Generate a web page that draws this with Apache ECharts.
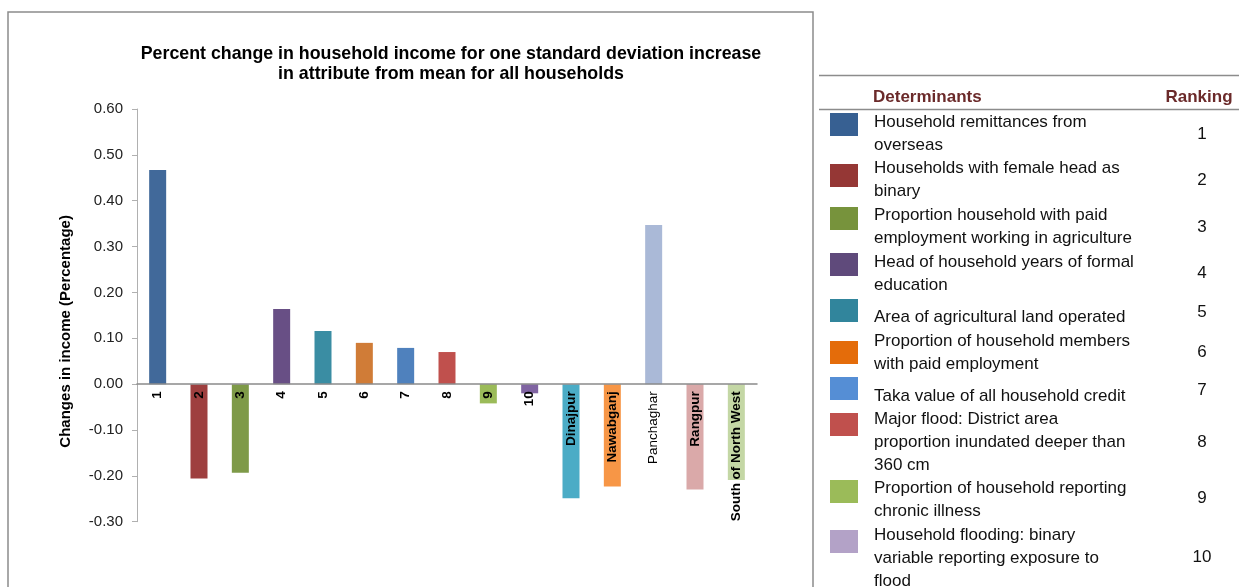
<!DOCTYPE html>
<html>
<head>
<meta charset="utf-8">
<title>Percent change in household income</title>
<script src="https://cdn.jsdelivr.net/npm/echarts@6/dist/echarts.min.js"></script>
<style>
  html, body { margin: 0; padding: 0; background: #fff; }
  #chart { width: 1239px; height: 587px; }
</style>
</head>
<body>
<div id="chart"></div>
<script>
// Categories: ranked determinants (1-10) followed by district dummies
const categories = ['1', '2', '3', '4', '5', '6', '7', '8', '9', '10',
  'Dinajpur', 'Nawabganj', 'Panchaghar', 'Rangpur', 'South of North West'];

// Percent change in income per one standard deviation increase
const values = [0.467, -0.206, -0.193, 0.164, 0.116, 0.090, 0.079, 0.070, -0.042, -0.020,
  -0.249, -0.223, 0.347, -0.230, -0.209];

const barColors = ['#41699A', '#9E3F3F', '#7E9A48', '#684F85', '#3A8DA3', '#D07C37', '#4F81BD',
  '#C0504D', '#9BBB59', '#8064A2', '#4BACC6', '#F79646', '#AAB9D7', '#DAA9A9', '#C4D7A5'];

// Determinants table
const determinants = [
  ['Household remittances from', 'overseas'],
  ['Households with female head as', 'binary'],
  ['Proportion household with paid', 'employment working in agriculture'],
  ['Head of household years of formal', 'education'],
  ['Area of agricultural land operated'],
  ['Proportion of household members', 'with paid employment'],
  ['Taka value of all household credit'],
  ['Major flood: District area', 'proportion inundated deeper than', '360 cm'],
  ['Proportion of household reporting', 'chronic illness'],
  ['Household flooding: binary', 'variable reporting exposure to', 'flood']
];
const rankings = ['1', '2', '3', '4', '5', '6', '7', '8', '9', '10'];
const swatchColors = ['#376092', '#953735', '#77933C', '#5F4A7B', '#31859C', '#E46C0A',
  '#558ED5', '#C0504D', '#9BBB59', '#B3A2C7'];

const yTicks = { min: -0.3, max: 0.6, step: 0.1 };

const FONT = '"Liberation Sans", Arial, sans-serif';

// Plot area geometry
const GRID = { left: 137, right: 482, top: 109, bottom: 65.3 };
const plotHeight = 587 - GRID.top - GRID.bottom;
// lift the category axis (line + labels) from the bottom edge up to the zero line
const zeroOffset = -plotHeight * (0 - yTicks.min) / (yTicks.max - yTicks.min);

// Row layout of the table (pixel positions)
const rowTextTop = [122, 168, 215, 262, 317, 341, 396, 419, 488, 535];
const rowSwatchTop = [113, 164, 207, 253, 299, 341, 377, 413, 480, 530];
const rowRankY = [134, 180, 227, 273, 312, 352, 390, 442, 498, 557];

const graphics = [];
// chart frame
graphics.push({
  type: 'rect', silent: true, z: 0,
  shape: { x: 8, y: 12, width: 805, height: 590 },
  style: { fill: 'none', stroke: '#8c8c8c', lineWidth: 1.5 }
});
// table rules
graphics.push({ type: 'line', shape: { x1: 819, y1: 75.5, x2: 1239, y2: 75.5 },
  style: { stroke: '#8c8c8c', lineWidth: 1.5 } });
graphics.push({ type: 'line', shape: { x1: 819, y1: 109.5, x2: 1239, y2: 109.5 },
  style: { stroke: '#8c8c8c', lineWidth: 1.5 } });
graphics.push({ type: 'text', x: 873, y: 97,
  style: { text: 'Determinants', fill: '#6B2A2A', font: 'bold 17px ' + FONT, textVerticalAlign: 'middle' } });
graphics.push({ type: 'text', x: 1199, y: 97,
  style: { text: 'Ranking', fill: '#6B2A2A', font: 'bold 17px ' + FONT, textAlign: 'center', textVerticalAlign: 'middle' } });

determinants.forEach((lines, i) => {
  graphics.push({
    type: 'rect',
    shape: { x: 830, y: rowSwatchTop[i], width: 28, height: 23 },
    style: { fill: swatchColors[i] }
  });
  lines.forEach((ln, j) => {
    graphics.push({
      type: 'text', x: 874, y: rowTextTop[i] + j * 23,
      style: { text: ln, fill: '#111', font: '17px ' + FONT, textVerticalAlign: 'middle' }
    });
  });
  graphics.push({
    type: 'text', x: 1202, y: rowRankY[i],
    style: { text: rankings[i], fill: '#111', font: '17px ' + FONT, textAlign: 'center', textVerticalAlign: 'middle' }
  });
});

const chart = echarts.init(document.getElementById('chart'), null, { renderer: 'canvas' });
chart.setOption({
  animation: false,
  backgroundColor: '#fff',
  title: {
    text: 'Percent change in household income for one standard deviation increase\nin attribute from mean for all households',
    left: 446,
    top: 39,
    textAlign: 'center',
    textStyle: { fontFamily: FONT, fontSize: 17.8, fontWeight: 'bold', color: '#000', lineHeight: 20 }
  },
  grid: Object.assign({ containLabel: false, outerBoundsMode: 'none' }, GRID),
  xAxis: {
    type: 'category',
    data: categories,
    z: 5,
    offset: zeroOffset,
    axisLine: { onZero: false, lineStyle: { color: '#8a8a8a', width: 1.5 } },
    axisTick: { show: false },
    axisLabel: {
      rotate: 90,
      margin: 7,
      interval: 0,
      fontFamily: FONT,
      fontSize: 13.5,
      fontWeight: 'bold',
      color: '#000',
      formatter: v => v === 'Panchaghar' ? '{n|' + v + '}' : v,
      rich: { n: { fontFamily: FONT, fontSize: 13.5, fontWeight: 'normal', color: '#000' } }
    }
  },
  yAxis: {
    type: 'value',
    min: yTicks.min,
    max: yTicks.max,
    interval: yTicks.step,
    name: 'Changes in income (Percentage)',
    nameLocation: 'middle',
    nameGap: 64,
    nameTextStyle: { fontFamily: FONT, fontSize: 15, fontWeight: 'bold', color: '#000', padding: [0, 32, 0, 0] },
    axisLine: { show: true, lineStyle: { color: '#b0b0b0', width: 1 } },
    axisTick: { show: true, length: 5, lineStyle: { color: '#b0b0b0' } },
    splitLine: { show: false },
    axisLabel: {
      margin: 14,
      fontFamily: FONT,
      fontSize: 15,
      color: '#222',
      formatter: v => v.toFixed(2)
    }
  },
  series: [{
    type: 'bar',
    barWidth: 17,
    data: values.map((v, i) => ({ value: v, itemStyle: { color: barColors[i] } }))
  }],
  graphic: graphics
});
</script>
</body>
</html>
